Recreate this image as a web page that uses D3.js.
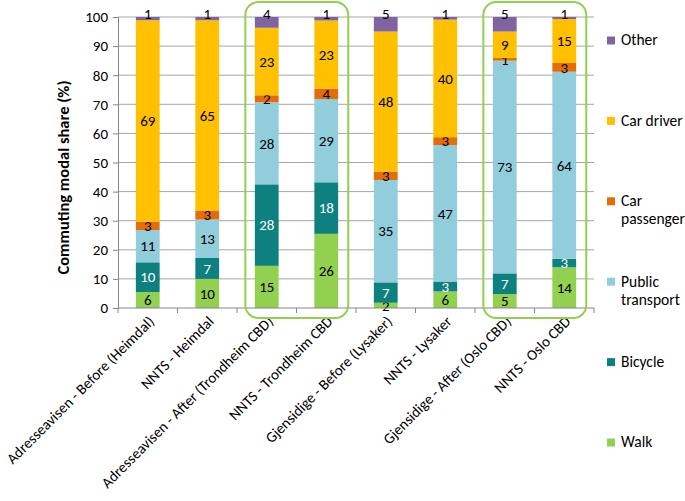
<!DOCTYPE html>
<html>
<head>
<meta charset="utf-8">
<script src="https://cdn.jsdelivr.net/npm/d3@7"></script>
<style>
  body { margin: 0; background: #fff; }
  svg { font-family: Carlito, Lato, "Open Sans", sans-serif; }
</style>
</head>
<body>
<div class="chart"></div>
<script>
// data (percent shares)
const categories = [
  "Adresseavisen - Before (Heimdal)",
  "NNTS - Heimdal",
  "Adresseavisen - After (Trondheim CBD)",
  "NNTS - Trondheim CBD",
  "Gjensidige - Before (Lysaker)",
  "NNTS - Lysaker",
  "Gjensidige - After (Oslo CBD)",
  "NNTS - Oslo CBD"
];
const modes = ["Walk", "Bicycle", "Public transport", "Car passenger", "Car driver", "Other"];
const walk      = [5.5, 10.0, 14.5, 25.5, 1.8, 5.7, 4.8, 14.0];
const bicycle   = [10.2, 7.2, 28.0, 17.7, 7.0, 3.4, 7.1, 2.9];
const publicTr  = [11.1, 13.2, 28.2, 28.6, 35.2, 46.9, 73.1, 64.3];
const carPass   = [2.8, 3.1, 2.4, 3.6, 2.9, 2.7, 0.9, 3.0];
const carDriver = [69.3, 65.4, 23.2, 23.4, 48.1, 40.4, 9.1, 15.1];
const other     = [1.1, 1.1, 3.7, 1.2, 5.0, 0.9, 5.0, 0.7];
const yTicks = [0, 10, 20, 30, 40, 50, 60, 70, 80, 90, 100];
// pairs of categories framed by green boxes
const highlighted = [[2, 3], [6, 7]];

const colors = {
  "Walk": "#92d050",
  "Bicycle": "#0f8080",
  "Public transport": "#92cddc",
  "Car passenger": "#e46c0a",
  "Car driver": "#ffc000",
  "Other": "#8064a2"
};
const labelColors = { "Bicycle": "#fff" };
const legendLines = {
  "Other": ["Other"],
  "Car driver": ["Car driver"],
  "Car passenger": ["Car", "passenger"],
  "Public transport": ["Public", "transport"],
  "Bicycle": ["Bicycle"],
  "Walk": ["Walk"]
};

const series = [walk, bicycle, publicTr, carPass, carDriver, other];
const rows = categories.map((c, i) => {
  const r = { cat: c };
  modes.forEach((m, j) => r[m] = series[j][i]);
  return r;
});

const W = 685, H = 501;
const margin = { top: 17, left: 118, right: 91, bottom: 193 };
const width = W - margin.left - margin.right;
const height = H - margin.top - margin.bottom;

const svgRoot = d3.select(".chart").append("svg")
  .attr("width", W).attr("height", H);
const svg = svgRoot.append("g")
  .attr("transform", `translate(${margin.left},${margin.top})`);

const xScale = d3.scaleBand().domain(categories).range([0, width]).paddingInner(0.6).paddingOuter(0.3);
const yScale = d3.scaleLinear().domain([0, 100]).range([height, 0]);

// gridlines
svg.append("g")
  .selectAll("line")
  .data(yTicks.slice(1))
  .join("line")
  .attr("x1", 0).attr("x2", width)
  .attr("y1", d => yScale(d)).attr("y2", d => yScale(d))
  .attr("stroke", "#a6a6a6").attr("stroke-width", 1);

const stack = d3.stack().keys(modes)(rows);

const layers = svg.append("g").selectAll("g")
  .data(stack)
  .join("g")
  .attr("fill", d => colors[d.key]);

layers.selectAll("rect")
  .data(d => d)
  .join("rect")
  .attr("x", d => xScale(d.data.cat))
  .attr("width", xScale.bandwidth())
  .attr("y", d => yScale(d[1]))
  .attr("height", d => yScale(d[0]) - yScale(d[1]));

// value labels
layers.each(function(layer) {
  d3.select(this).selectAll("text")
    .data(layer)
    .join("text")
    .attr("x", d => xScale(d.data.cat) + xScale.bandwidth() / 2)
    .attr("y", d => layer.key === "Other" ? yScale(100) - 3 : yScale((d[0] + d[1]) / 2))
    .attr("dy", "0.35em")
    .attr("text-anchor", "middle")
    .attr("font-size", 15)
    .attr("fill", labelColors[layer.key] || "#000")
    .text(d => Math.round(d[1] - d[0]));
});

// axes
const step = xScale.step();
const boundaries = d3.range(categories.length + 1).map(i => i * width / categories.length);

const xAxis = svg.append("g").attr("class", "axis x-axis")
  .attr("transform", `translate(0,${height})`);
xAxis.append("line").attr("x1", 0).attr("x2", width).attr("stroke", "#868686");
xAxis.selectAll(".tick")
  .data(boundaries)
  .join("line")
  .attr("class", "tick")
  .attr("x1", d => d).attr("x2", d => d)
  .attr("y1", 0).attr("y2", 5)
  .attr("stroke", "#868686");
xAxis.selectAll("text")
  .data(categories)
  .join("text")
  .attr("transform", d => `translate(${xScale(d) + xScale.bandwidth() / 2 + 1},8) rotate(-45)`)
  .attr("text-anchor", "end")
  .attr("dy", "0.6em")
  .attr("font-size", 15)
  .attr("fill", "#000")
  .text(d => d);

const yAxis = d3.axisLeft(yScale).tickValues(yTicks).tickSize(5).tickPadding(5);
svg.append("g").attr("class", "axis y-axis")
  .call(yAxis)
  .call(g => g.selectAll("line, path").attr("stroke", "#868686"))
  .call(g => g.selectAll("text").attr("font-size", 15).attr("fill", "#000")
    .attr("font-family", "Carlito, Lato, sans-serif"));

svg.append("text")
  .attr("transform", `translate(-49,${height / 2 + 15}) rotate(-90)`)
  .attr("text-anchor", "middle")
  .attr("font-size", 16.5)
  .attr("font-weight", "bold")
  .text("Commuting modal share (%)");

// green highlight boxes
svg.append("g").selectAll("rect")
  .data(highlighted)
  .join("rect")
  .attr("x", d => xScale(categories[d[0]]) - step * 0.16)
  .attr("width", d => xScale(categories[d[1]]) - xScale(categories[d[0]]) + xScale.bandwidth() + step * 0.33)
  .attr("y", yScale(100) - 15)
  .attr("height", height + 25)
  .attr("rx", 13)
  .attr("fill", "none")
  .attr("stroke", "#92d050")
  .attr("stroke-width", 2);

// legend
const legend = svgRoot.append("g").attr("transform", "translate(607,0)");
const legendOrder = modes.slice().reverse();
legendOrder.forEach((m, i) => {
  const cy = 40 + i * 80.4;
  legend.append("rect")
    .attr("x", 0).attr("y", cy - 3.5)
    .attr("width", 8).attr("height", 8)
    .attr("fill", colors[m]);
  legendLines[m].forEach((line, k) => {
    legend.append("text")
      .attr("x", 14).attr("y", cy + k * 18)
      .attr("dy", "0.35em")
      .attr("font-size", 15.5)
      .text(line);
  });
});
</script>
</body>
</html>
